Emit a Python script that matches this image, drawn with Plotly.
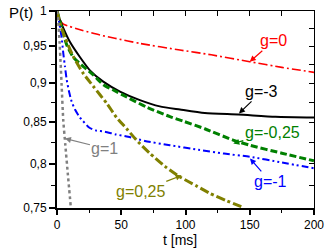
import plotly.graph_objects as go
import math

# ---- data ----
t_g0 = [2.5, 5, 20, 33.4, 45, 64.5, 95.7, 120, 150, 175, 200]
p_g0 = [0.986, 0.981, 0.972, 0.9655, 0.961, 0.9538, 0.9446, 0.938, 0.9286, 0.921, 0.9143]

t_gm3 = [0, 2.3, 5, 10, 17.8, 25.6, 36, 49, 64.5, 80, 95.7, 115, 141, 170, 200]
p_gm3 = [1, 0.987, 0.975, 0.956, 0.935, 0.917, 0.902, 0.889, 0.878, 0.870, 0.866, 0.8615, 0.8597,
         0.857, 0.856]

t_gm025 = [0, 3.6, 7.5, 12.6, 19.2, 28.2, 36, 43.8, 54.2, 69.8, 87.9, 99, 115, 137, 150, 175, 200]
p_gm025 = [1, 0.977, 0.952, 0.935, 0.924, 0.911, 0.898, 0.891, 0.882, 0.869, 0.857, 0.851, 0.842,
           0.8282, 0.822, 0.8125, 0.8035]

t_gm1 = [0, 1.5, 3.6, 4.9, 6.2, 7.5, 9.5, 11.4, 14, 17.8, 20, 25, 30, 37.3, 46, 55.4, 68.4, 87.9,
         110, 130, 150, 175, 200]
p_gm1 = [1, 0.985, 0.962, 0.94, 0.922, 0.905, 0.888, 0.876, 0.866, 0.856, 0.852, 0.8435, 0.840,
         0.8384, 0.835, 0.8322, 0.8271, 0.822, 0.8165, 0.812, 0.8083, 0.8015, 0.7948]

t_g025 = [0, 3, 6.2, 12.6, 20.4, 28.2, 38.6, 46.4, 54.2, 63.2, 72.3, 84, 95.7, 108, 119, 132, 145]
p_g025 = [1, 0.978, 0.962, 0.936, 0.913, 0.896, 0.874, 0.856, 0.842, 0.8258, 0.8123, 0.797, 0.7848,
          0.775, 0.7662, 0.758, 0.7506]

t_g1 = [0, 1, 2, 3, 3.6, 4.9, 6.5, 8.5, 10.8]
p_g1 = [1, 0.985, 0.955, 0.92, 0.897, 0.852, 0.822, 0.787, 0.75]

x_ticks = [0, 50, 100, 150, 200]
x_minor = [25, 75, 125, 175]
y_ticks = [0.75, 0.8, 0.85, 0.9, 0.95, 1]
y_ticktext = ["0,75", "0,8", "0,85", "0,9", "0,95", "1"]
y_minor = [0.775, 0.825, 0.875, 0.925, 0.975]

FONT = "Liberation Sans, Arial, sans-serif"

fig = go.Figure()

def add(t, p, color, width, dash):
    fig.add_trace(go.Scatter(x=t, y=p, mode="lines", line=dict(color=color, width=width, dash=dash,
                             shape="spline", smoothing=0.6), showlegend=False, hoverinfo="skip"))

add(t_g0, p_g0, "#ff0000", 1.6, "9px,3px,2px,3px")
add(t_gm3, p_gm3, "#000000", 2, "solid")
add(t_gm025, p_gm025, "#008000", 3, "7px,3px")
add(t_gm1, p_gm1, "#0000ff", 2, "7px,3px,2px,3px,2px,3px")
add(t_g025, p_g025, "#808000", 3, "9px,3px,3px,3px")
add(t_g1, p_g1, "#808080", 2.5, "dot")

# dummy trace for mirrored top/right axes
fig.add_trace(go.Scatter(x=[x_ticks[0], x_ticks[-1]], y=[y_ticks[0], y_ticks[-1]], xaxis="x2", yaxis="y2",
                         mode="markers", marker=dict(opacity=0), showlegend=False, hoverinfo="skip"))

yr = [math.log10(y_ticks[0]), math.log10(y_ticks[-1])]

fig.update_layout(
    width=327, height=250,
    margin=dict(l=57, r=13, t=11, b=42, autoexpand=False),
    paper_bgcolor="white", plot_bgcolor="white",
    font=dict(family=FONT, size=12, color="black"),
    xaxis=dict(range=[0, 200], tickvals=x_ticks, ticks="outside", ticklen=5, tickwidth=1.5,
               tickcolor="black", showline=True, linewidth=2, linecolor="black", showgrid=False,
               zeroline=False, tickfont=dict(size=12), automargin=False,
               minor=dict(tickvals=x_minor, ticks="outside", ticklen=3, tickwidth=1.2, tickcolor="black")),
    yaxis=dict(type="log", range=yr, tickvals=y_ticks, ticktext=y_ticktext, ticks="outside", ticklen=6,
               tickwidth=1.5, tickcolor="black", showline=True, linewidth=2, linecolor="black",
               showgrid=False, zeroline=False, tickfont=dict(size=12), automargin=False,
               minor=dict(tickvals=y_minor, ticks="outside", ticklen=4, tickwidth=1.2, tickcolor="black")),
    xaxis2=dict(overlaying="x", anchor="y", side="top", range=[0, 200], automargin=False,
                tickvals=x_ticks + x_minor, ticks="inside", ticklen=5, tickwidth=1.2, tickcolor="black",
                showticklabels=False, showline=True, linewidth=1, linecolor="black", showgrid=False,
                zeroline=False),
    yaxis2=dict(overlaying="y", anchor="x", side="right", type="log", range=yr, automargin=False,
                tickvals=y_ticks + y_minor, ticks="inside", ticklen=5, tickwidth=1.2, tickcolor="black",
                showticklabels=False, showline=True, linewidth=1, linecolor="black", showgrid=False,
                zeroline=False),
)

def ann(x, y, text, color, ax, ay):
    fig.add_annotation(x=x, y=math.log10(y), text=text, showarrow=True, arrowhead=2, arrowsize=1,
                       arrowwidth=1.2, arrowcolor=color, ax=ax, ay=ay, standoff=0,
                       font=dict(family=FONT, size=16, color=color))

ann(150, 0.9286, "g=0", "#ff0000", 24, -21)
ann(141.6, 0.8611, "g=-3", "#000000", 23, -22)
ann(137.2, 0.8241, "g=-0,25", "#008000", 39, -11)
ann(150.2, 0.8063, "g=-1", "#0000ff", 20, 23)
ann(97, 0.7866, "g=0,25", "#808000", -41, 16)
ann(6.2, 0.8301, "g=1", "#808080", 40, 10)

fig.add_annotation(xref="paper", yref="paper", x=-0.14, y=0.99, xanchor="center", yanchor="middle",
                   text="P(t)", showarrow=False, font=dict(family=FONT, size=15, color="black"))
fig.add_annotation(xref="paper", yref="paper", x=0.479, y=-0.162, xanchor="center", yanchor="middle",
                   text="t [ms]", showarrow=False, borderpad=0, font=dict(family=FONT, size=14, color="black"))

fig.write_html("out.html", config={"displayModeBar": False},
               post_script="document.body.style.margin='0';document.body.style.overflow='hidden';")
